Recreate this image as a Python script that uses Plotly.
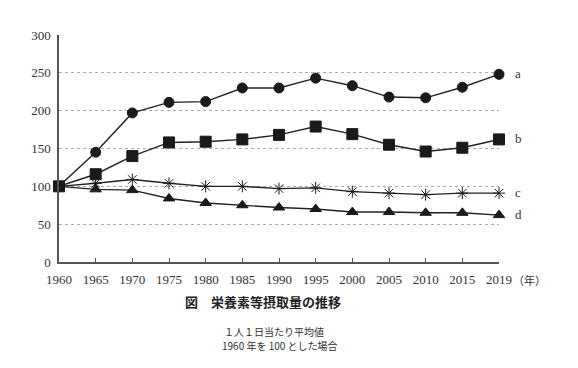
import plotly.graph_objects as go

years = ["1960", "1965", "1970", "1975", "1980", "1985", "1990", "1995", "2000", "2005", "2010", "2015", "2019"]
series_a = [100, 145, 197, 211, 212, 230, 230, 243, 233, 218, 217, 231, 248]
series_b = [100, 116, 140, 158, 159, 162, 168, 179, 169, 155, 146, 151, 162]
series_c = [100, 104, 109, 104, 100, 100, 97, 98, 93, 91, 89, 91, 91]
series_d = [100, 96, 95, 84, 78, 75, 72, 70, 66, 66, 65, 65, 62]
labels = ["a", "b", "c", "d"]
symbols = ["circle", "square", "asterisk-open", "triangle-up"]
sizes = [10, 11, 10, 10]

serif = "Liberation Serif"
cjk = "Noto Sans CJK JP"

fig = go.Figure()
for vals, sym, sz in zip([series_a, series_b, series_c, series_d], symbols, sizes):
    fig.add_trace(go.Scatter(
        x=years, y=vals, mode="lines+markers",
        line=dict(color="#222222", width=1.4),
        marker=dict(symbol=sym, size=sz, color="#1a1a1a",
                    line=dict(color="#1a1a1a", width=1)),
        cliponaxis=False, showlegend=False,
    ))

for lab, vals in zip(labels, [series_a, series_b, series_c, series_d]):
    fig.add_annotation(x=len(years) - 1, y=vals[-1], text=lab, showarrow=False,
                       xanchor="left", xshift=14, yshift=1,
                       font=dict(family=serif, size=13, color="#333"))

fig.add_annotation(x=1, y=0, xref="paper", yref="paper", text="（年）", showarrow=False,
                   xanchor="left", yanchor="top", xshift=12, yshift=-8,
                   font=dict(family=cjk, size=11, color="#333"))

fig.add_annotation(x=0.464, y=-0.172, xref="paper", yref="paper",
                   text="<b>図　栄養素等摂取量の推移</b>", showarrow=False,
                   xanchor="center", yanchor="middle",
                   font=dict(family=cjk, size=13, color="#222"))
fig.add_annotation(x=0.37, y=-0.304, xref="paper", yref="paper",
                   text="１人１日当たり平均値", showarrow=False,
                   xanchor="left", yanchor="middle",
                   font=dict(family=cjk, size=10, color="#333"))
fig.add_annotation(x=0.366, y=-0.366, xref="paper", yref="paper",
                   text="1960 年を 100 とした場合", showarrow=False,
                   xanchor="left", yanchor="middle",
                   font=dict(family=cjk, size=10, color="#333"))

fig.update_layout(
    width=570, height=360,
    margin=dict(l=51, r=79, t=27, b=106),
    paper_bgcolor="white", plot_bgcolor="white",
    xaxis=dict(type="category", range=[0, len(years) - 1], showline=True,
               linecolor="#555", linewidth=1.5, ticks="inside", ticklen=4,
               tickcolor="#555", showgrid=False, zeroline=False,
               ticklabelstandoff=5,
               tickfont=dict(family=serif, size=13, color="#333")),
    yaxis=dict(range=[0, 300], dtick=50, showline=True, linecolor="#555",
               linewidth=1.5, ticks="", showgrid=True, gridcolor="#aaaaaa",
               griddash="dot", gridwidth=1, zeroline=False,
               ticklabelstandoff=4,
               tickfont=dict(family=serif, size=13, color="#333")),
)

fig.write_html("out.html")
